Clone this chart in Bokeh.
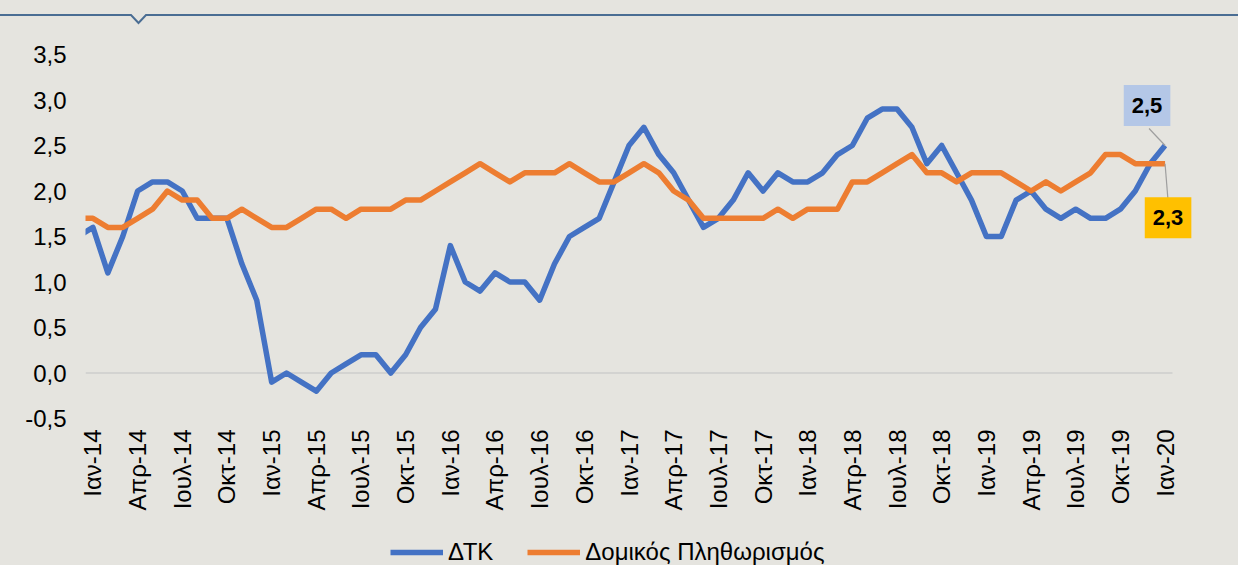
import math
from bokeh.plotting import figure
from bokeh.models import (FixedTicker, CustomJSTickFormatter, Legend, LegendItem,
                          Label, Div, Range1d)
from bokeh.layouts import column
from bokeh.embed import file_html
from bokeh.resources import INLINE

# Monthly series. Index 0 = Δεκ-13 (only partly visible at the left edge),
# index 1 = Ιαν-14 ... index 73 = Ιαν-20
dtk = [1.5,
       1.6, 1.1, 1.5, 2.0, 2.1, 2.1, 2.0, 1.7, 1.7, 1.7, 1.2, 0.8,
       -0.1, 0.0, -0.1, -0.2, 0.0, 0.1, 0.2, 0.2, 0.0, 0.2, 0.5, 0.7,
       1.4, 1.0, 0.9, 1.1, 1.0, 1.0, 0.8, 1.2, 1.5, 1.6, 1.7, 2.1,
       2.5, 2.7, 2.4, 2.2, 1.9, 1.6, 1.7, 1.9, 2.2, 2.0, 2.2, 2.1,
       2.1, 2.2, 2.4, 2.5, 2.8, 2.9, 2.9, 2.7, 2.3, 2.5, 2.2, 1.9,
       1.5, 1.5, 1.9, 2.0, 1.8, 1.7, 1.8, 1.7, 1.7, 1.8, 2.0, 2.3,
       2.5]
core = [1.7,
        1.7, 1.6, 1.6, 1.7, 1.8, 2.0, 1.9, 1.9, 1.7, 1.7, 1.8, 1.7,
        1.6, 1.6, 1.7, 1.8, 1.8, 1.7, 1.8, 1.8, 1.8, 1.9, 1.9, 2.0,
        2.1, 2.2, 2.3, 2.2, 2.1, 2.2, 2.2, 2.2, 2.3, 2.2, 2.1, 2.1,
        2.2, 2.3, 2.2, 2.0, 1.9, 1.7, 1.7, 1.7, 1.7, 1.7, 1.8, 1.7,
        1.8, 1.8, 1.8, 2.1, 2.1, 2.2, 2.3, 2.4, 2.2, 2.2, 2.1, 2.2,
        2.2, 2.2, 2.1, 2.0, 2.1, 2.0, 2.1, 2.2, 2.4, 2.4, 2.3, 2.3,
        2.3]
month_index = list(range(len(dtk)))

tick_labels = ["Ιαν-14", "Απρ-14", "Ιουλ-14", "Οκτ-14",
               "Ιαν-15", "Απρ-15", "Ιουλ-15", "Οκτ-15",
               "Ιαν-16", "Απρ-16", "Ιουλ-16", "Οκτ-16",
               "Ιαν-17", "Απρ-17", "Ιουλ-17", "Οκτ-17",
               "Ιαν-18", "Απρ-18", "Ιουλ-18", "Οκτ-18",
               "Ιαν-19", "Απρ-19", "Ιουλ-19", "Οκτ-19",
               "Ιαν-20"]
x_ticks = [1 + 3 * k for k in range(len(tick_labels))]
y_ticks = [-0.5, 0.0, 0.5, 1.0, 1.5, 2.0, 2.5, 3.0, 3.5]
series_names = ["ΔΤΚ", "Δομικός Πληθωρισμός"]

BG = "#E5E4DF"
BLUE = "#4472C4"
ORANGE = "#ED7D31"
FONT = "Liberation Sans"
LW = 5.5
AX_FS = "24px"

PAGE_W, PAGE_H = 1238, 565
TOP_H = 26          # decorative rule at the top
LEG_H = 35          # legend strip at the bottom
W, H = PAGE_W, PAGE_H - TOP_H - LEG_H
ML, MT = 85, 28
FRAME_H = 364
MB = H - MT - FRAME_H
PLOT_W = 1087                      # width of the month axis area
px_x = PLOT_W / (len(dtk) - 1)
px_y = FRAME_H / 4.0
x_lo = month_index[0] + 0.5
x_hi_data = month_index[-1] + 0.5
x_hi = x_lo + (W - ML) / px_x      # extra room on the right for the callouts

p = figure(width=W, height=H, x_range=(x_lo, x_hi), y_range=(-0.5, 3.5),
           output_backend="svg", toolbar_location=None,
           min_border_left=ML, min_border_right=0, min_border_top=MT, min_border_bottom=MB,
           background_fill_color=BG, border_fill_color=BG, outline_line_color=None)
p.margin = 0

# axes
p.xaxis.ticker = FixedTicker(ticks=x_ticks)
p.xaxis.major_label_overrides = {t: lab for t, lab in zip(x_ticks, tick_labels)}
p.xaxis.major_label_orientation = math.pi / 2
p.xaxis.major_label_standoff = 5
p.yaxis.ticker = FixedTicker(ticks=y_ticks)
p.yaxis.formatter = CustomJSTickFormatter(code="return tick.toFixed(1).replace('.', ',')")
p.yaxis.major_label_standoff = 13
for ax in (p.xaxis, p.yaxis):
    ax.axis_line_color = None
    ax.major_tick_line_color = None
    ax.minor_tick_line_color = None
    ax.major_label_text_font = FONT
    ax.major_label_text_font_size = AX_FS
    ax.major_label_text_color = "black"

p.xgrid.visible = False
p.ygrid.visible = False
# zero line across the month area only
p.segment(x0=[x_lo], y0=[0], x1=[x_hi_data], y1=[0], line_color="#D3D3D1", line_width=2)

r1 = p.line(month_index, dtk, line_color=BLUE, line_width=LW, line_join="round")
r2 = p.line(month_index, core, line_color=ORANGE, line_width=LW, line_join="round")

# data labels for the last values
last = month_index[-1]


def fmt(v):
    return f"{v:.1f}".replace(".", ",")


def callout(yv, dx, dy, fill, lead_dx, lead_dy):
    p.segment(x0=[last], y0=[yv], x1=[last + lead_dx / px_x], y1=[yv + lead_dy / px_y],
              line_color="#9E9E9E", line_width=1.2)
    shadow = Label(x=last, y=yv, x_offset=dx + 4, y_offset=dy - 4, text=fmt(yv),
                   text_font=FONT, text_font_size="22px", text_font_style="bold",
                   text_align="center", text_baseline="middle", text_alpha=0,
                   background_fill_color="#8A8A8A", background_fill_alpha=0.45,
                   padding=dict(x=8, y=13))
    lab = Label(x=last, y=yv, x_offset=dx, y_offset=dy, text=fmt(yv),
                text_font=FONT, text_font_size="22px", text_font_style="bold",
                text_align="center", text_baseline="middle", text_color="black",
                background_fill_color=fill, background_fill_alpha=1.0,
                padding=dict(x=8, y=13))
    p.add_layout(shadow)
    p.add_layout(lab)


callout(dtk[-1], -18, 40, "#B4C7E7", -16, 17)
callout(core[-1], 3, -54, "#FFC000", 3, -37)

# legend strip (own small figure; the series are drawn there outside its view
# so that the legend samples carry the same styles)
lf = figure(width=PAGE_W, height=LEG_H, x_range=Range1d(x_lo, x_hi), y_range=Range1d(10, 11),
            x_axis_type=None, y_axis_type=None, output_backend="svg", toolbar_location=None,
            min_border=0, background_fill_color=BG, border_fill_color=BG,
            outline_line_color=None)
lf.margin = 0
k1 = lf.line(month_index, dtk, line_color=BLUE, line_width=LW)
k2 = lf.line(month_index, core, line_color=ORANGE, line_width=LW)
legend = Legend(items=[LegendItem(label=series_names[0], renderers=[k1]),
                       LegendItem(label=series_names[1], renderers=[k2])],
                location=(305, -1), orientation="horizontal",
                glyph_width=53, glyph_height=20, label_standoff=5, spacing=34,
                padding=0, margin=0, background_fill_alpha=0, border_line_alpha=0,
                label_text_font=FONT, label_text_font_size=AX_FS,
                label_text_color="black")
lf.add_layout(legend)

top_line = Div(text=('<svg width="1238" height="26" style="display:block">'
                     '<polyline points="-2,15 131,15 138.5,23 146,15 1240,15" fill="none" '
                     'stroke="#4A6D93" stroke-width="2"/></svg>'),
               width=PAGE_W, height=TOP_H, margin=0)

layout = column(top_line, p, lf, margin=0, spacing=0)
html = file_html(layout, INLINE)
html = html.replace("<body>", '<body style="background-color:#E5E4DF">')
open("out.html", "w").write(html)
